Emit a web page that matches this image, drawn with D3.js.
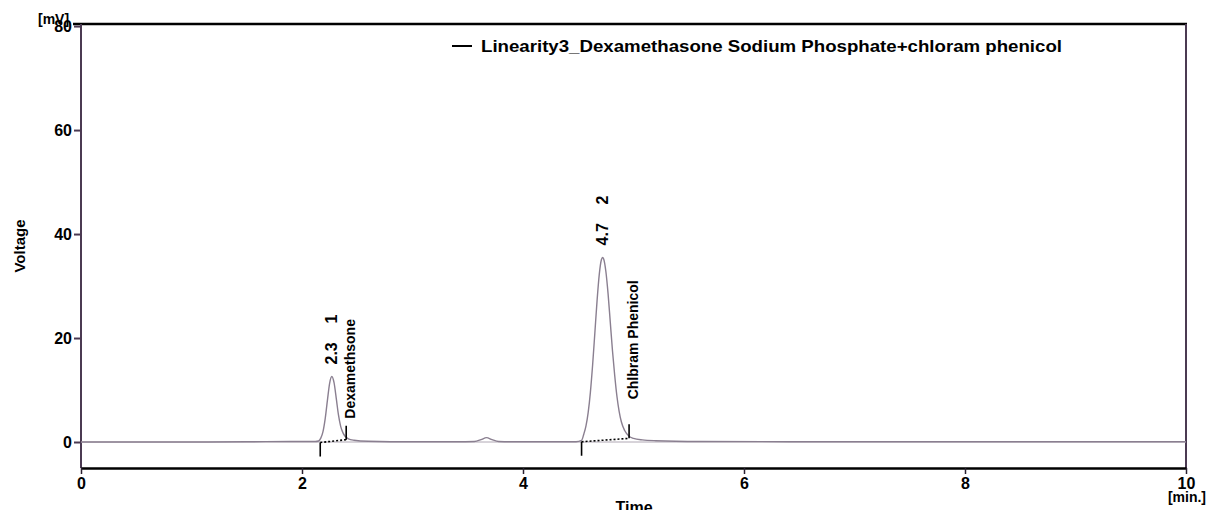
<!DOCTYPE html>
<html>
<head>
<meta charset="utf-8">
<script src="https://cdn.jsdelivr.net/npm/d3@7"></script>
<style>
  body { margin: 0; background: #fff; }
  svg text { font-family: "Liberation Sans", Arial, sans-serif; font-weight: bold; fill: #000; }
</style>
</head>
<body>
<svg width="1208" height="510"></svg>
<script>
// chromatogram trace (time in min, voltage in mV)
var times = [0, 0.5, 1.0, 1.5, 1.9, 2.05, 2.12, 2.15, 2.17, 2.19, 2.21, 2.23, 2.25, 2.27, 2.29, 2.31, 2.33, 2.35, 2.37, 2.39, 2.42, 2.47, 2.6,
             3.0, 3.4, 3.56, 3.62, 3.67, 3.72, 3.78, 3.9, 4.3, 4.48,
             4.53, 4.55, 4.57, 4.59, 4.61, 4.63, 4.65, 4.67, 4.69, 4.71, 4.72, 4.73, 4.75, 4.77, 4.79, 4.81, 4.83, 4.85, 4.87, 4.89, 4.92, 4.96, 5.0, 5.08, 5.2, 5.6,
             6.5, 7.5, 8.5, 9.5, 10];
var volts = [0, 0, 0, 0.05, 0.1, 0.1, 0.1, 0.2, 0.75, 2.0, 4.5, 8.0, 11.3, 12.6, 11.4, 8.4, 5.2, 3.0, 1.8, 1.1, 0.6, 0.35, 0.15,
             0.05, 0.05, 0.1, 0.45, 0.85, 0.45, 0.1, 0.05, 0.05, 0.05,
             0.3, 1.5, 3.1, 5.7, 9.6, 14.8, 20.9, 27.1, 32.2, 35.1, 35.5, 35.2, 32.8, 28.5, 23.0, 17.5, 12.8, 8.8, 5.9, 3.9, 2.2, 1.1, 0.7, 0.4, 0.25, 0.1,
             0.05, 0.05, 0.05, 0.05, 0.05];

// integrated peaks
var peakRT = [2.3, 4.7];
var peakId = [1, 2];
var peakTop = [2.27, 4.72];
var peakTopV = [12.6, 35.5];
var peakNames = ["Dexamethsone", "Chlbram Phenicol"];
var baseStartT = [2.165, 4.53];
var baseStartV = [-0.1, 0.05];
var baseEndT = [2.40, 4.96];
var baseEndV = [0.45, 0.7];

var xTicks = [0, 2, 4, 6, 8, 10];
var yTicks = [0, 20, 40, 60, 80];
var seriesName = "Linearity3_Dexamethasone Sodium Phosphate+chloram phenicol";

var svg = d3.select("svg");
var mLeft = 81, mRight = 1186, mTop = 24, mBottom = 468;

var x = d3.scaleLinear().domain([0, 10]).range([mLeft, mRight]);
var y = d3.scaleLinear().domain([-5, 80.4]).range([mBottom, mTop]);

// frame: top and right
svg.append("line").attr("x1", 73).attr("x2", mRight + 1).attr("y1", mTop).attr("y2", mTop)
    .attr("stroke", "#000").attr("stroke-width", 2.5);
svg.append("line").attr("x1", mRight).attr("x2", mRight).attr("y1", mTop).attr("y2", mBottom)
    .attr("stroke", "#4b3a52").attr("stroke-width", 2);

// y axis
var yAxis = svg.append("g").attr("transform", `translate(${mLeft},0)`)
    .call(d3.axisLeft(y).tickValues(yTicks).tickSize(7).tickSizeOuter(0));
yAxis.select(".domain").attr("stroke", "#4b3a52").attr("stroke-width", 2)
    .attr("d", `M0,${mTop}V${mBottom}`);
yAxis.selectAll(".tick line").attr("stroke", "#4b3a52").attr("stroke-width", 2);
yAxis.selectAll(".tick text").attr("font-size", 16).attr("x", -9).attr("dy", "0.35em");

// x axis
var xAxis = svg.append("g").attr("transform", `translate(0,${mBottom})`)
    .call(d3.axisBottom(x).tickValues(xTicks).tickSize(6).tickSizeOuter(0));
xAxis.select(".domain").attr("stroke", "#000").attr("stroke-width", 2.5);
xAxis.selectAll(".tick line").attr("stroke", "#2a2030").attr("stroke-width", 1.5);
xAxis.selectAll(".tick text").attr("font-size", 16).attr("y", 9).attr("dy", "0.75em");

// axis units and titles
svg.append("text").attr("x", 38).attr("y", 24).attr("font-size", 14).text("[mV]");
svg.append("text").attr("x", 1206).attr("y", 502).attr("text-anchor", "end").attr("font-size", 14).text("[min.]");
svg.append("text").attr("transform", "translate(25,246) rotate(-90)").attr("text-anchor", "middle")
    .attr("font-size", 15).text("Voltage");
svg.append("text").attr("x", 634).attr("y", 513).attr("text-anchor", "middle").attr("font-size", 16).text("Time");

// zero line
svg.append("line").attr("x1", mLeft).attr("x2", mRight).attr("y1", y(0)).attr("y2", y(0))
    .attr("stroke", "#b0a8b4").attr("stroke-width", 1);

// signal
var pts = times.map(function (t, i) { return [t, volts[i]]; });
var line = d3.line()
    .x(function (d) { return x(d[0]); })
    .y(function (d) { return y(d[1]); })
    .curve(d3.curveMonotoneX);
svg.append("path").attr("d", line(pts)).attr("fill", "none")
    .attr("stroke", "#8a7f90").attr("stroke-width", 1.4);

// integration baselines and markers
peakRT.forEach(function (rt, i) {
    svg.append("line")
        .attr("x1", x(baseStartT[i])).attr("y1", y(baseStartV[i]))
        .attr("x2", x(baseEndT[i])).attr("y2", y(baseEndV[i]))
        .attr("stroke", "#000").attr("stroke-width", 1.6).attr("stroke-dasharray", "2,2");
    svg.append("line")
        .attr("x1", x(baseStartT[i])).attr("x2", x(baseStartT[i]))
        .attr("y1", y(baseStartV[i])).attr("y2", y(baseStartV[i]) + 14)
        .attr("stroke", "#000").attr("stroke-width", 1.6);
    svg.append("line")
        .attr("x1", x(baseEndT[i])).attr("x2", x(baseEndT[i]))
        .attr("y1", y(baseEndV[i])).attr("y2", y(baseEndV[i]) - 14)
        .attr("stroke", "#000").attr("stroke-width", 1.6);

    // retention time and id above the peak
    var px = x(peakTop[i]) + 5, py = y(peakTopV[i]) - 12;
    svg.append("text").attr("transform", `translate(${px},${py}) rotate(-90)`)
        .attr("font-size", 16).text(rt.toFixed(1));
    svg.append("text").attr("transform", `translate(${px},${py - 41}) rotate(-90)`)
        .attr("font-size", 16).text(peakId[i]);
});

// compound names beside the end markers
var nameLift = [21, 39];
peakNames.forEach(function (nm, i) {
    var nx = x(baseEndT[i]) + 9, ny = y(baseEndV[i]) - nameLift[i];
    svg.append("text").attr("transform", `translate(${nx},${ny}) rotate(-90)`)
        .attr("font-size", 14).text(nm);
});

// legend
svg.append("line").attr("x1", 452).attr("x2", 472).attr("y1", 46).attr("y2", 46)
    .attr("stroke", "#000").attr("stroke-width", 2);
svg.append("text").attr("x", 481).attr("y", 52).attr("font-size", 17)
    .attr("textLength", 581).attr("lengthAdjust", "spacingAndGlyphs").text(seriesName);
</script>
</body>
</html>
